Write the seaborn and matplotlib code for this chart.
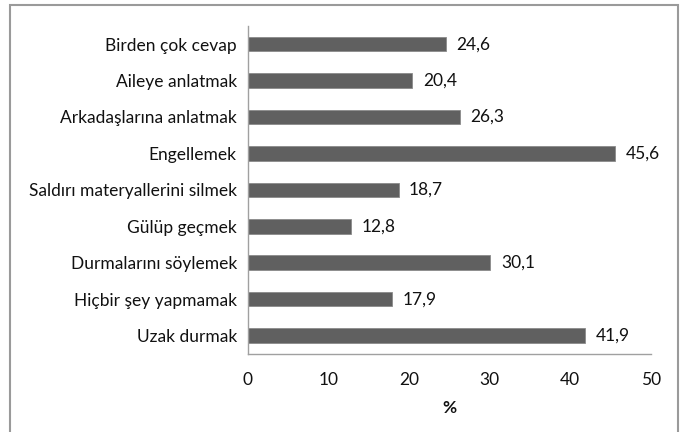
import matplotlib
matplotlib.use("Agg")
import matplotlib.pyplot as plt
import seaborn as sns
import pandas as pd
from matplotlib.patches import Rectangle

categories = ['Birden çok cevap', 'Aileye anlatmak', 'Arkadaşlarına anlatmak',
              'Engellemek', 'Saldırı materyallerini silmek', 'Gülüp geçmek',
              'Durmalarını söylemek', 'Hiçbir şey yapmamak', 'Uzak durmak']
values = [24.6, 20.4, 26.3, 45.6, 18.7, 12.8, 30.1, 17.9, 41.9]
value_labels = ['24,6', '20,4', '26,3', '45,6', '18,7', '12,8', '30,1', '17,9', '41,9']
x_ticks = [0, 10, 20, 30, 40, 50]

df = pd.DataFrame({'kategori': categories, 'yuzde': values})

sns.set_style("white")
plt.rcParams['font.family'] = ['Lato', 'DejaVu Sans']
fs = 12.5

fig = plt.figure(figsize=(6.85, 4.32), dpi=100)
ax = fig.add_axes([0.362, 0.181, 0.588, 0.759])

sns.barplot(x='yuzde', y='kategori', data=df, color='#606060', width=0.4,
            edgecolor='#8a8a8a', linewidth=0.6, saturation=1, ax=ax)

for i, (v, lab) in enumerate(zip(values, value_labels)):
    ax.text(v + 1.3, i, lab, va='center', ha='left', fontsize=fs, color='#111111')

ax.set_xlim(0, 50)
ax.set_xticks(x_ticks)
ax.set_xticklabels([str(t) for t in x_ticks], fontsize=fs, color='#111111')
ax.set_xlabel('%', fontsize=fs, fontweight='bold', color='#111111', labelpad=9)
ax.set_ylabel('')
ax.set_ylim(len(categories) - 0.5, -0.5)

# y ticks between categories
ax.set_yticks([i - 0.5 for i in range(len(categories) + 1)], minor=False)
ax.set_yticklabels([])
ax.set_yticks(range(len(categories)), minor=True)
ax.set_yticklabels(categories, minor=True, fontsize=fs, color='#111111')
ax.tick_params(axis='y', which='minor', length=0, pad=8)
ax.tick_params(axis='y', which='major', length=5, width=1, color='#a0a0a0', direction='out')
ax.tick_params(axis='x', length=5, width=1, color='#a0a0a0', direction='out', pad=8)

for s in ['top', 'right']:
    ax.spines[s].set_visible(False)
for s in ['left', 'bottom']:
    ax.spines[s].set_color('#a0a0a0')
    ax.spines[s].set_linewidth(1)

fig.patches.append(Rectangle((10 / 685, -0.02), 668 / 685, 1 - 5 / 432 + 0.02,
                             transform=fig.transFigure, fill=False,
                             edgecolor='#9a9a9a', linewidth=1.5))

fig.savefig('out.png', dpi=100)
